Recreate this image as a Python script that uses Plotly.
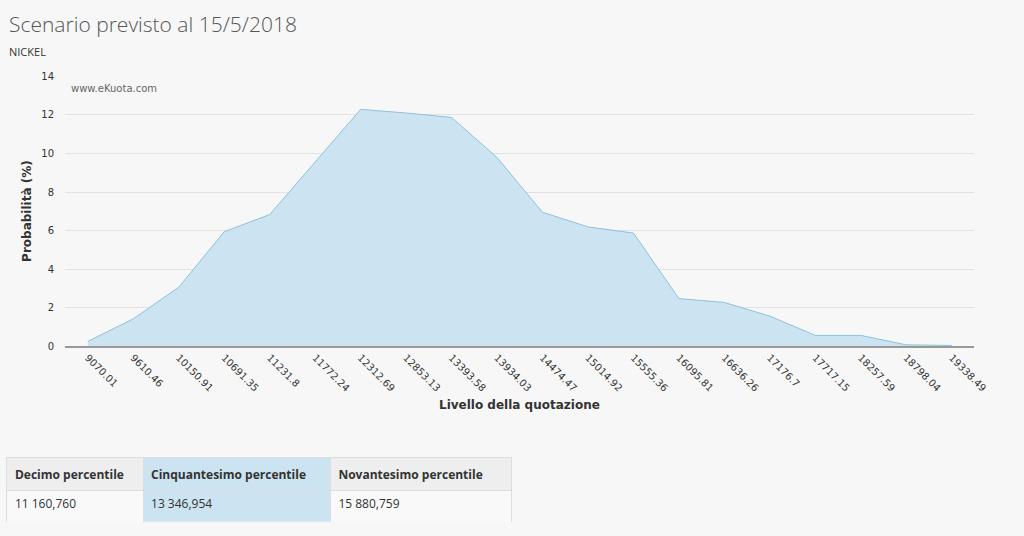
import plotly.graph_objects as go

W, H = 1024, 536

levels = ["9070.01", "9610.46", "10150.91", "10691.35", "11231.8", "11772.24",
          "12312.69", "12853.13", "13393.58", "13934.03", "14474.47", "15014.92",
          "15555.36", "16095.81", "16636.26", "17176.7", "17717.15", "18257.59",
          "18798.04", "19338.49"]
prob = [0.25, 1.42, 3.06, 5.94, 6.83, 9.55, 12.29, 12.1, 11.87, 9.79,
        6.95, 6.19, 5.87, 2.47, 2.27, 1.56, 0.56, 0.56, 0.07, 0.04]
y_ticks = [0, 2, 4, 6, 8, 10, 12, 14]

table_header = ["Decimo percentile", "Cinquantesimo percentile", "Novantesimo percentile"]
table_values = ["11 160,760", "13 346,954", "15 880,759"]

bg = "#f7f7f7"
fig = go.Figure()
fig.add_trace(go.Scatter(
    x=list(range(len(levels))), y=prob, mode="lines",
    line=dict(color="#8dc1da", width=1),
    fill="tozeroy", fillcolor="#cce4f1",
    hoverinfo="skip", showlegend=False,
))

# table
fig.add_trace(go.Table(
    domain=dict(x=[7 / W, 520 / W], y=[(H - 528) / H, (H - 462) / H]),
    columnwidth=[138, 190, 184],
    header=dict(values=["<b>%s</b>" % h for h in table_header],
                fill_color=["#eeeeee", "#cce4f1", "#eeeeee"],
                line_color="#dddddd", align="left", height=32,
                font=dict(family="Open Sans", size=12, color="#333333")),
    cells=dict(values=[[v] for v in table_values],
               fill_color=["#f9f9f9", "#cce4f1", "#f9f9f9"],
               line_color="#dddddd", align="left", height=33,
               font=dict(family="Open Sans", size=12, color="#333333")),
))

fig.update_layout(
    width=W, height=H,
    margin=dict(l=0, r=0, t=0, b=0),
    paper_bgcolor=bg, plot_bgcolor=bg,
    xaxis=dict(
        domain=[66 / W, 988 / W], range=[-0.5, len(levels) - 0.5],
        tickmode="array", tickvals=list(range(len(levels))), ticktext=levels,
        tickangle=45, showgrid=False, zeroline=False,
        showline=True, linecolor="#999999", linewidth=1.5,
        tickfont=dict(family="DejaVu Sans", size=10, color="#333333"),
        ticks="", fixedrange=True,
    ),
    yaxis=dict(
        domain=[(H - 348) / H, (H - 72) / H], range=[0, 14],
        tickmode="array", tickvals=y_ticks,
        showgrid=True, gridcolor="#e2e2e2", gridwidth=1, zeroline=False,
        tickfont=dict(family="DejaVu Sans", size=10, color="#333333"),
        ticks="outside", ticklen=8, tickcolor="rgba(0,0,0,0)", fixedrange=True,
    ),
    annotations=[
        dict(text="Scenario previsto al 15/5/2018", x=7 / W, y=1 - 2 / H,
             xref="paper", yref="paper", xanchor="left", yanchor="top",
             showarrow=False,
             font=dict(family="Open Sans", size=21, color="#555555", weight=300)),
        dict(text="NICKEL", x=7 / W, y=1 - 37 / H, xref="paper", yref="paper",
             xanchor="left", yanchor="top", showarrow=False,
             font=dict(family="Open Sans", size=11, color="#333333")),
        dict(text="www.eKuota.com", x=70 / W, y=1 - 77 / H, xref="paper", yref="paper",
             xanchor="left", yanchor="top", showarrow=False,
             font=dict(family="DejaVu Sans", size=10, color="#666666")),
        dict(text="<b>Probabilità (%)</b>", x=28 / W, y=1 - 210 / H, xref="paper", yref="paper",
             xanchor="center", yanchor="middle", textangle=-90, showarrow=False,
             font=dict(family="DejaVu Sans", size=12, color="#333333")),
        dict(text="<b>Livello della quotazione</b>", x=527 / W, y=1 - 408 / H,
             xref="paper", yref="paper", xanchor="center", yanchor="middle",
             showarrow=False, font=dict(family="DejaVu Sans", size=12, color="#333333")),
    ],
)

fig.write_html("out.html", config={"displayModeBar": False})
